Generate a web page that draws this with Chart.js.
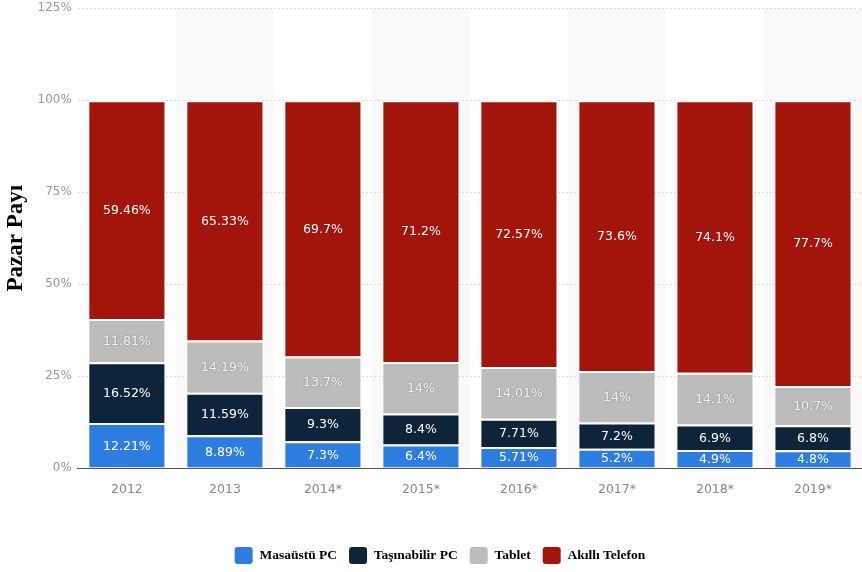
<!DOCTYPE html>
<html>
<head>
<meta charset="utf-8">
<script src="https://cdn.jsdelivr.net/npm/chart.js@4/dist/chart.umd.min.js"></script>
<style>
html,body{margin:0;padding:0;background:#fff;overflow:hidden;}
#wrap{position:relative;width:862px;height:572px;overflow:hidden;}
#c{position:absolute;left:0;top:-5px;}
</style>
</head>
<body>
<div id="wrap"><canvas id="c" width="862" height="578"></canvas></div>
<script>
const categories = ['2012','2013','2014*','2015*','2016*','2017*','2018*','2019*'];
const masaustu = [12.21, 8.89, 7.3, 6.4, 5.71, 5.2, 4.9, 4.8];
const tasinabilir = [16.52, 11.59, 9.3, 8.4, 7.71, 7.2, 6.9, 6.8];
const tablet = [11.81, 14.19, 13.7, 14, 14.01, 14, 14.1, 10.7];
const akilli = [59.46, 65.33, 69.7, 71.2, 72.57, 73.6, 74.1, 77.7];
const yTicks = [0, 25, 50, 75, 100, 125];

const bandPlugin = {
  id: 'bands',
  beforeDraw(chart) {
    const {ctx, chartArea, scales} = chart;
    const x = scales.x;
    const w = x.getPixelForValue(1) - x.getPixelForValue(0);
    ctx.save();
    ctx.fillStyle = '#f9f9f9';
    for (let i = 1; i < categories.length; i += 2) {
      const cx = x.getPixelForValue(i);
      ctx.fillRect(cx - w/2, chartArea.top, w, chartArea.bottom - chartArea.top);
    }
    ctx.restore();
  }
};

const legendShift = {
  id: 'legendShift',
  afterLayout(chart) {
    if (chart.legend) { chart.legend.left += 8; chart.legend.right += 8; chart.legend.top += 2; chart.legend.bottom += 2; }
  }
};

const labelPlugin = {
  id: 'vals',
  afterDatasetsDraw(chart) {
    const {ctx} = chart;
    ctx.save();
    ctx.font = '12.5px "DejaVu Sans"';
    ctx.textAlign = 'center';
    ctx.textBaseline = 'middle';
    chart.data.datasets.forEach((ds, di) => {
      const meta = chart.getDatasetMeta(di);
      meta.data.forEach((bar, i) => {
        const v = ds.data[i];
        const y = (bar.y + bar.base) / 2;
        ctx.fillStyle = di === 2 ? '#f4f4f4' : '#ffffff';
        if (di === 2) { ctx.shadowColor = 'rgba(0,0,0,0.35)'; ctx.shadowBlur = 2; }
        else { ctx.shadowColor = 'transparent'; ctx.shadowBlur = 0; }
        ctx.fillText(v + '%', bar.x, y + 1);
      });
    });
    ctx.restore();
  }
};

const mk = (label, data, color) => ({
  label, data, backgroundColor: color,
  borderColor: '#ffffff', borderWidth: {top: 2, bottom: 0, left: 0, right: 0},
  borderSkipped: false,
  barPercentage: 0.77, categoryPercentage: 1.0
});

new Chart(document.getElementById('c'), {
  type: 'bar',
  data: {
    labels: categories,
    datasets: [
      mk('Masaüstü PC', masaustu, '#2d7de0'),
      mk('Taşınabilir PC', tasinabilir, '#0e243b'),
      mk('Tablet', tablet, '#bcbcbc'),
      mk('Akıllı Telefon', akilli, '#a3150b')
    ]
  },
  options: {
    responsive: false,
    animation: false,
    layout: {padding: {top: 0, right: 0, left: 2, bottom: 1}},
    plugins: {
      legend: {
        position: 'bottom',
        labels: {
          font: {family: '"Liberation Serif"', size: 13.5, weight: 'bold'},
          color: '#111',
          boxWidth: 18, boxHeight: 17, useBorderRadius: true, borderRadius: 3,
          padding: 12,
          generateLabels(chart) {
            return chart.data.datasets.map((ds, i) => ({
              text: ds.label, fillStyle: ds.backgroundColor, strokeStyle: ds.backgroundColor,
              lineWidth: 0, borderRadius: 3, datasetIndex: i, hidden: false
            }));
          }
        }
      },
      tooltip: {enabled: false}
    },
    scales: {
      x: {
        stacked: true,
        grid: {display: false, drawTicks: false},
        border: {display: true, color: '#555', width: 1},
        ticks: {color: '#888', font: {family: '"DejaVu Sans"', size: 12.5}, padding: 14},
        afterFit(scale) { scale.height += 22; }
      },
      y: {
        stacked: true,
        min: 0, max: 125,
        afterBuildTicks(scale) { scale.ticks = yTicks.map(v => ({value: v})); },
        grid: {color: '#dcdcdc', drawTicks: false, lineWidth: 1},
        border: {display: false, dash: [2, 2]},
        ticks: {color: '#999', font: {family: '"DejaVu Sans"', size: 12}, padding: 6,
          callback: v => v + '%'},
        title: {display: true, text: 'Pazar Payı', color: '#000',
          font: {family: '"Liberation Serif"', size: 23, weight: 'bold'}, padding: {top: 0, bottom: 2}}
      }
    }
  },
  plugins: [bandPlugin, labelPlugin, legendShift]
});
</script>
</body>
</html>
